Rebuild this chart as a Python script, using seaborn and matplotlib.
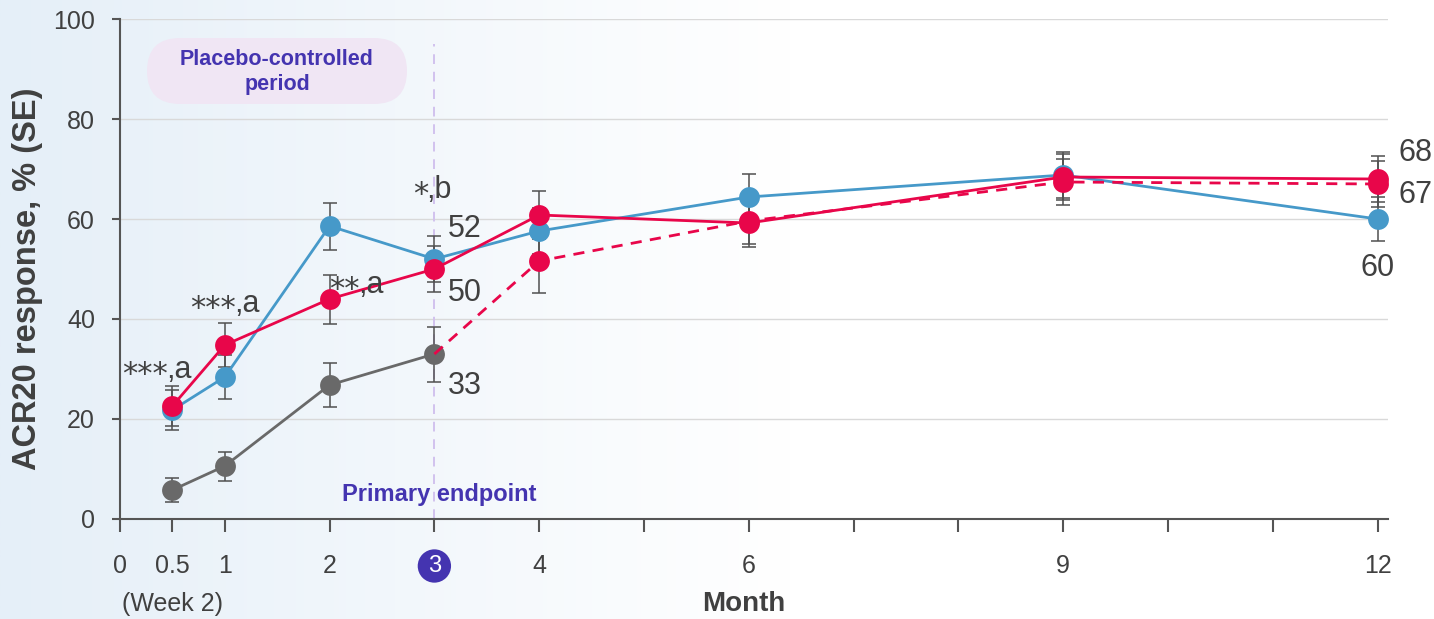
import numpy as np
import pandas as pd
import matplotlib
matplotlib.use("Agg")
import matplotlib.pyplot as plt
import matplotlib.transforms as mtransforms
from matplotlib.patches import FancyBboxPatch
import seaborn as sns

# ---- data -------------------------------------------------------------
months = [0.5, 1, 2, 3, 4, 6, 9, 12]
dose_high = [21.8, 28.4, 58.6, 52, 57.6, 64.4, 68.8, 60]
dose_high_se = [4.0, 4.4, 4.7, 4.6, 4.6, 4.6, 4.6, 4.4]
dose_low = [22.6, 34.8, 44.0, 50, 60.8, 59.2, 68.4, 68]
dose_low_se = [4.0, 4.4, 4.9, 4.6, 4.8, 4.8, 4.6, 4.6]
placebo_months = [0.5, 1, 2, 3]
placebo = [5.8, 10.6, 26.8, 33]
placebo_se = [2.4, 2.9, 4.4, 5.5]
switch_months = [3, 4, 6, 9, 12]
switch = [33, 51.6, 59.6, 67.4, 67]
switch_se = [0, 6.4, 4.6, 4.6, 4.6]

tick_pos = [0, 0.5, 1, 2, 3, 4, 6, 9, 12]
tick_labels = ["0", "0.5", "1", "2", "", "4", "6", "9", "12"]
minor_pos = [5, 7, 8, 10, 11]

# significance marks: (x, y, stars, suffix)
sig_marks = [(0.02, 29.8, "***", ",a"), (0.67, 43.0, "***", ",a"),
             (2.0, 46.8, "**", ",a"), (2.8, 65.8, "*", ",b")]

# ---- style ------------------------------------------------------------
sns.set_theme(style="white")
plt.rcParams["font.family"] = ["Liberation Sans", "DejaVu Sans"]

BLUE = "#4699C9"
RED = "#E8064A"
GRAY = "#696969"
PURPLE = "#4434B0"
TXT = "#404040"

fig = plt.figure(figsize=(14.34, 6.19), dpi=100)

# soft horizontal background wash
bg = fig.add_axes([0, 0, 1, 1], zorder=-10)
xs = np.linspace(0, 1, 600)
t = np.clip(xs / 0.55, 0, 1)
left = np.array([229, 239, 248]) / 255
right = np.array([1.0, 1.0, 1.0])
grad = left[None, :] * (1 - t[:, None]) + right[None, :] * t[:, None]
bg.imshow(grad[None, :, :], aspect="auto", extent=[0, 1, 0, 1])
bg.set_axis_off()

ax = fig.add_axes([120 / 1434, 100 / 619, 1268 / 1434, 500 / 619])
ax.set_facecolor("none")

# ---- series -----------------------------------------------------------
line_kw = dict(linewidth=2.0, marker="o", markersize=15, markeredgewidth=0,
               errorbar=None, legend=False, ax=ax)
err_kw = dict(fmt="none", ecolor="#505050", elinewidth=1.1, capsize=5,
              capthick=1.1)

df_pl = pd.DataFrame({"Month": placebo_months, "Response": placebo})
df_hi = pd.DataFrame({"Month": months, "Response": dose_high})
df_lo = pd.DataFrame({"Month": months, "Response": dose_low})
df_sw = pd.DataFrame({"Month": switch_months, "Response": switch})

ax.errorbar(placebo_months, placebo, yerr=placebo_se, zorder=2, **err_kw)
ax.errorbar(months, dose_high, yerr=dose_high_se, zorder=2, **err_kw)
ax.errorbar(months, dose_low, yerr=dose_low_se, zorder=2, **err_kw)
ax.errorbar(switch_months[1:], switch[1:], yerr=switch_se[1:], zorder=2, **err_kw)

sns.lineplot(data=df_pl, x="Month", y="Response", color=GRAY, zorder=3, **line_kw)
sns.lineplot(data=df_hi, x="Month", y="Response", color=BLUE, zorder=4, **line_kw)
sns.lineplot(data=df_sw.iloc[1:], x="Month", y="Response", color=RED,
             zorder=5, linestyle="none",
             **{k: v for k, v in line_kw.items() if k != "linewidth"})
sns.lineplot(data=df_sw, x="Month", y="Response", color=RED, zorder=5,
             linewidth=2.0, linestyle=(0, (4, 3)), errorbar=None, legend=False, ax=ax)
sns.lineplot(data=df_lo, x="Month", y="Response", color=RED, zorder=6, **line_kw)

# ---- axes -------------------------------------------------------------
ax.set_xlim(0, 12.1)
ax.set_ylim(0, 100)
ax.set_yticks([0, 20, 40, 60, 80, 100])
ax.yaxis.grid(True, color="#D9D9D9", linewidth=1.0)
ax.set_axisbelow(True)
for s in ["top", "right"]:
    ax.spines[s].set_visible(False)
for s in ["left", "bottom"]:
    ax.spines[s].set_color("#555555")
    ax.spines[s].set_linewidth(1.5)
ax.spines["left"].set_zorder(1)

ax.set_xticks(tick_pos)
ax.set_xticklabels(tick_labels)
ax.set_xticks(minor_pos, minor=True)
ax.tick_params(axis="x", which="both", direction="out", length=9, width=1.5,
               color="#555555", pad=16, labelsize=18, labelcolor=TXT, bottom=True)
ax.tick_params(axis="y", direction="out", length=6, width=1.5, color="#555555",
               pad=12, labelsize=18, labelcolor=TXT, left=True)
ax.xaxis.get_major_ticks()[1].tick1line.set_color("#1A1A80")
ax.set_xlabel("")
ax.set_ylabel("")

trans = mtransforms.blended_transform_factory(ax.transData, ax.transAxes)

# circled primary endpoint tick label
ax.text(3, -0.094, "3", transform=trans, ha="center", va="center",
        fontsize=17, color="white",
        bbox=dict(boxstyle="circle,pad=0.24", fc=PURPLE, ec="none"))
ax.text(0.5, -0.17, "(Week 2)", transform=trans, ha="center", va="center",
        fontsize=18, color=TXT)

fig.text(744 / 1434, 1 - 604 / 619, "Month", ha="center", va="center",
         fontsize=20, fontweight="bold", color=TXT)
fig.text(28 / 1434, 1 - 279 / 619, "ACR20 response, % (SE)", rotation=90,
         ha="center", va="center", fontsize=23.5, fontweight="bold", color=TXT)

# primary endpoint marker line
ax.plot([3, 3], [0, 95], color="#D2C2EE", linewidth=1.4, linestyle=(0, (5, 4)),
        zorder=1)
ax.text(3.05, 5, "Primary endpoint", ha="center", va="center", fontsize=17,
        fontweight="bold", color=PURPLE, zorder=7)

# placebo-controlled period badge (pill shape, laid out in inches)
badge = FancyBboxPatch((1.47, (619 - 104) / 100), 2.60, 0.66,
                       boxstyle="round,pad=0,rounding_size=0.33",
                       transform=fig.dpi_scale_trans, fc="#F0E6F4", ec="none",
                       zorder=0)
fig.patches.append(badge)
fig.text(277 / 1434, 1 - 72 / 619, "Placebo-controlled\nperiod", ha="center",
         va="center", fontsize=15.5, fontweight="bold", color=PURPLE,
         linespacing=1.2)

# significance marks: stars, then the footnote letter right after them
ann = dict(fontsize=22, color=TXT, zorder=8, clip_on=False)
renderer = fig.canvas.get_renderer()
for x, y, stars, suffix in sig_marks:
    st = ax.text(x, y - 0.9, stars, ha="left", va="center",
                 family=["DejaVu Sans"], **ann)
    bb = st.get_window_extent(renderer)
    inv = ax.transData.inverted()
    x_end = inv.transform((bb.x1, 0))[0]
    ax.text(x_end - 0.02, y, suffix, ha="left", va="center", **ann)

# end values
val = dict(fontsize=22, color=TXT, va="center", zorder=8, clip_on=False)
ax.text(3.13, dose_high[3] + 6, f"{dose_high[3]:.0f}", ha="left", **val)
ax.text(3.13, dose_low[3] - 4.8, f"{dose_low[3]:.0f}", ha="left", **val)
ax.text(3.13, placebo[3] - 6.4, f"{placebo[3]:.0f}", ha="left", **val)
ax.text(12.2, dose_low[7] + 5.2, f"{dose_low[7]:.0f}", ha="left", **val)
ax.text(12.2, switch[4] - 2.2, f"{switch[4]:.0f}", ha="left", **val)
ax.text(12.0, dose_high[7] - 9.8, f"{dose_high[7]:.0f}", ha="center", **val)

fig.savefig("out.png", dpi=100)
